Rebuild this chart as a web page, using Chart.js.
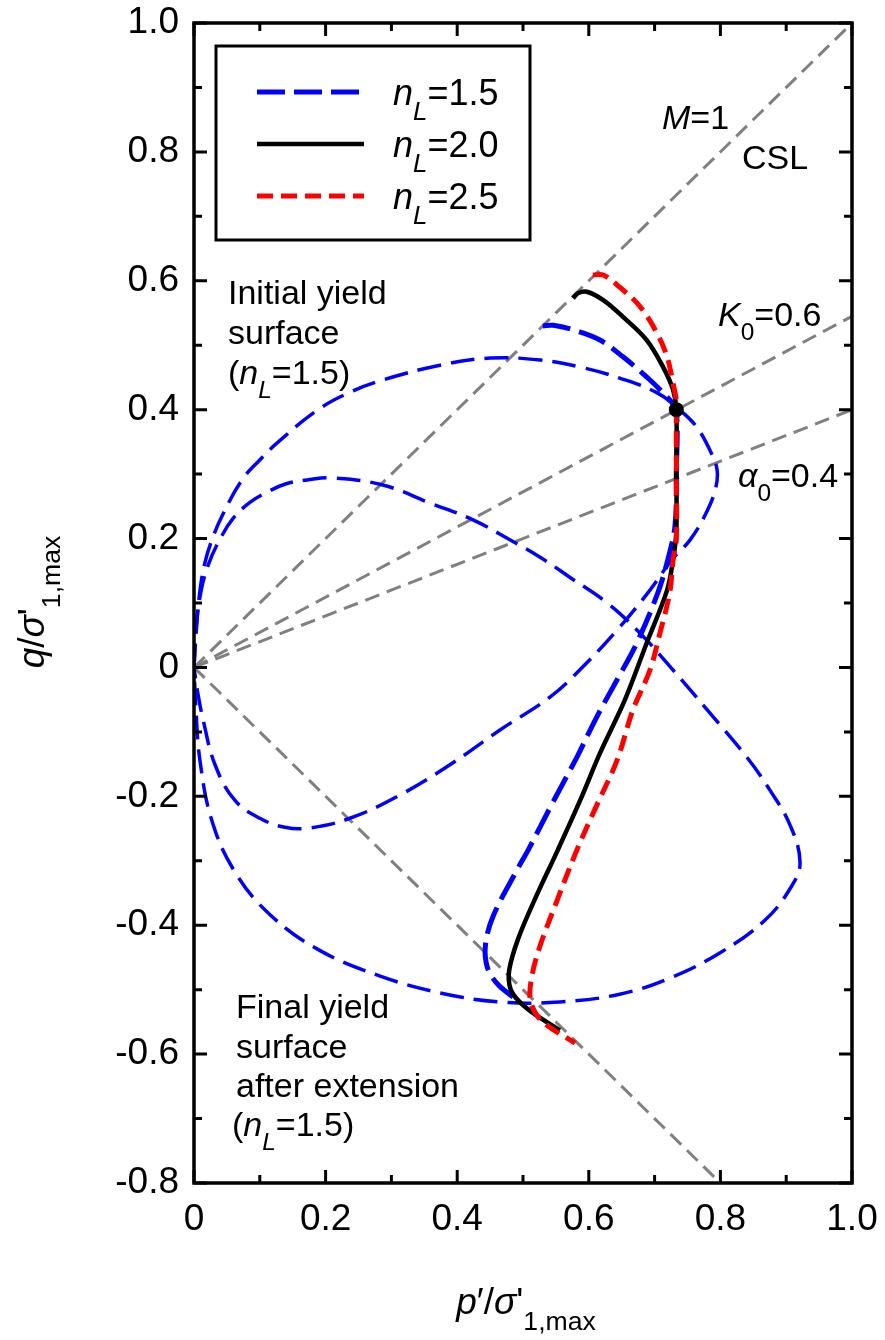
<!DOCTYPE html>
<html>
<head>
<meta charset="utf-8">
<script src="https://cdn.jsdelivr.net/npm/chart.js@4.4.1/dist/chart.umd.min.js"></script>
<style>
  html, body { margin: 0; padding: 0; background: #fff; }
  #wrap { width: 885px; height: 1340px; }
</style>
</head>
<body>
<div id="wrap"><canvas id="chart" width="885" height="1340"></canvas></div>
<script>
// axis ticks
const xMajorTicks = [0, 0.2, 0.4, 0.6, 0.8, 1.0];
const xMinorTicks = [0.1, 0.3, 0.5, 0.7, 0.9];
const xTickLabels = ['0', '0.2', '0.4', '0.6', '0.8', '1.0'];
const yMajorTicks = [-0.8, -0.6, -0.4, -0.2, 0, 0.2, 0.4, 0.6, 0.8, 1.0];
const yMinorTicks = [-0.7, -0.5, -0.3, -0.1, 0.1, 0.3, 0.5, 0.7, 0.9];
const yTickLabels = ['-0.8', '-0.6', '-0.4', '-0.2', '0', '0.2', '0.4', '0.6', '0.8', '1.0'];

// reference lines [p, q]
const cslLine = [[0, 0], [1, 1]];
const k0Line = [[0, 0], [1, 0.545]];
const alphaLine = [[0, 0], [1, 0.4]];
const extLine = [[0, 0], [0.8, -0.8]];

// yield surfaces (nL = 1.5)
const initialSurface = [
  [0, 0], [0.003, 0.05], [0.008, 0.11], [0.016, 0.16], [0.028, 0.20], [0.045, 0.24],
  [0.073, 0.291], [0.100, 0.322], [0.126, 0.348], [0.187, 0.399], [0.237, 0.427], [0.287, 0.446],
  [0.374, 0.469], [0.450, 0.480], [0.526, 0.477], [0.587, 0.466], [0.647, 0.449], [0.704, 0.426],
  [0.739, 0.399], [0.764, 0.373], [0.785, 0.335], [0.795, 0.306], [0.792, 0.275], [0.777, 0.237],
  [0.754, 0.198], [0.726, 0.167], [0.693, 0.120], [0.643, 0.058], [0.591, 0.001], [0.541, -0.046],
  [0.465, -0.097], [0.389, -0.151], [0.313, -0.198], [0.237, -0.234], [0.176, -0.249], [0.138, -0.248],
  [0.100, -0.234], [0.062, -0.206], [0.032, -0.151], [0.014, -0.082], [0.005, -0.035], [0, 0]
];
const finalSurface = [
  [0, 0], [0.003, 0.058], [0.010, 0.115], [0.022, 0.160], [0.040, 0.200], [0.060, 0.232],
  [0.085, 0.256], [0.111, 0.272], [0.140, 0.285], [0.172, 0.291], [0.211, 0.294], [0.287, 0.283],
  [0.359, 0.255], [0.424, 0.229], [0.480, 0.198], [0.526, 0.171], [0.571, 0.140], [0.628, 0.100],
  [0.678, 0.053], [0.728, -0.004], [0.780, -0.066], [0.840, -0.139], [0.875, -0.190], [0.906, -0.245],
  [0.921, -0.302], [0.909, -0.338], [0.868, -0.392], [0.799, -0.443], [0.723, -0.482], [0.647, -0.507],
  [0.556, -0.519], [0.465, -0.519], [0.374, -0.505], [0.283, -0.479], [0.191, -0.439], [0.116, -0.384],
  [0.062, -0.317], [0.027, -0.237], [0.009, -0.144], [0.003, -0.066], [0, 0]
];

// stress paths: compression end -> start point -> extension end
const pathN15 = [
  [0.530, 0.530], [0.546, 0.531], [0.576, 0.524], [0.617, 0.508], [0.652, 0.482], [0.693, 0.446],
  [0.723, 0.415], [0.733, 0.400], [0.733, 0.300], [0.731, 0.220], [0.720, 0.167], [0.705, 0.116],
  [0.673, 0.038], [0.643, -0.019], [0.612, -0.077], [0.582, -0.139], [0.545, -0.210], [0.508, -0.283],
  [0.491, -0.314], [0.455, -0.385], [0.443, -0.430], [0.446, -0.466], [0.462, -0.492], [0.491, -0.516]
];
const pathN20 = [
  [0.576, 0.573], [0.584, 0.581], [0.597, 0.583], [0.622, 0.570], [0.652, 0.544], [0.688, 0.508],
  [0.713, 0.466], [0.728, 0.431], [0.733, 0.400], [0.733, 0.300], [0.733, 0.210], [0.728, 0.167],
  [0.719, 0.120], [0.688, 0.038], [0.655, -0.050], [0.617, -0.133], [0.587, -0.206], [0.553, -0.283],
  [0.521, -0.353], [0.493, -0.420], [0.479, -0.470], [0.481, -0.499], [0.493, -0.517], [0.515, -0.536],
  [0.556, -0.563]
];
const pathN25 = [
  [0.606, 0.609], [0.622, 0.609], [0.647, 0.590], [0.678, 0.560], [0.704, 0.518], [0.719, 0.482],
  [0.728, 0.441], [0.733, 0.415], [0.733, 0.400], [0.733, 0.300], [0.733, 0.198], [0.728, 0.167],
  [0.723, 0.116], [0.708, 0.053], [0.693, -0.004], [0.667, -0.066], [0.643, -0.144], [0.612, -0.214],
  [0.582, -0.283], [0.552, -0.361], [0.524, -0.438], [0.512, -0.488], [0.512, -0.520], [0.528, -0.548],
  [0.579, -0.583]
];
const startPoint = [[0.733, 0.400]];

const legendLabels = ['1.5', '2.0', '2.5'];

const FONT = '"Liberation Sans", Arial, Helvetica, sans-serif';
const BLUE = '#0000ff', RED = '#ff0000', GRAY = '#808080';

const toXY = arr => arr.map(([p, q]) => ({ x: p, y: q }));

function lineSet(data, st, tension, order) {
  return {
    data: toXY(data), showLine: true, borderColor: st.color, borderWidth: st.width,
    borderDash: st.dash, pointRadius: 0, tension: tension, fill: false, order: order,
    borderCapStyle: 'butt', borderJoinStyle: 'round'
  };
}

const styles = {
  surf: { color: BLUE, width: 3.5, dash: [24, 10] },
  n15: { color: BLUE, width: 5, dash: [28, 9] },
  n20: { color: '#000', width: 4.5, dash: [] },
  n25: { color: RED, width: 5, dash: [16, 8] },
  ref: { color: GRAY, width: 3, dash: [15, 8] }
};

// text with italic/sub runs
function runsWidth(ctx, runs, size) {
  let w = 0;
  runs.forEach(r => {
    const s = r.sub ? size * 0.72 : size;
    ctx.font = (r.i ? 'italic ' : '') + s + 'px ' + FONT;
    w += ctx.measureText(r.t).width;
  });
  return w;
}
function drawRuns(ctx, x, y, runs, size, align) {
  let cx = x;
  if (align === 'center') cx = x - runsWidth(ctx, runs, size) / 2;
  ctx.textBaseline = 'alphabetic';
  ctx.textAlign = 'left';
  runs.forEach(r => {
    const s = r.sub ? size * 0.72 : size;
    ctx.font = (r.i ? 'italic ' : '') + s + 'px ' + FONT;
    ctx.fillText(r.t, cx, y + (r.sub ? size * 0.42 : 0));
    cx += ctx.measureText(r.t).width;
  });
}

const decorations = {
  id: 'decorations',
  afterDatasetsDraw(chart) {
    const { ctx, chartArea: a, scales: { x, y } } = chart;
    ctx.save();
    ctx.strokeStyle = '#000';
    ctx.fillStyle = '#000';
    ctx.lineCap = 'butt';

    // inward ticks on all four sides
    ctx.lineWidth = 3;
    const tickX = (v, len) => {
      const px = x.getPixelForValue(v);
      ctx.beginPath();
      ctx.moveTo(px, a.bottom); ctx.lineTo(px, a.bottom - len);
      ctx.moveTo(px, a.top); ctx.lineTo(px, a.top + len);
      ctx.stroke();
    };
    const tickY = (v, len) => {
      const py = y.getPixelForValue(v);
      ctx.beginPath();
      ctx.moveTo(a.left, py); ctx.lineTo(a.left + len, py);
      ctx.moveTo(a.right, py); ctx.lineTo(a.right - len, py);
      ctx.stroke();
    };
    xMajorTicks.forEach(v => tickX(v, 13));
    xMinorTicks.forEach(v => tickX(v, 8));
    yMajorTicks.forEach(v => tickY(v, 13));
    yMinorTicks.forEach(v => tickY(v, 8));

    // frame
    ctx.lineWidth = 3.5;
    ctx.strokeRect(a.left, a.top, a.width, a.height);

    // legend
    const lx = 216, ly = 46, lw = 314, lh = 194;
    ctx.lineWidth = 3;
    ctx.fillStyle = '#fff';
    ctx.fillRect(lx, ly, lw, lh);
    ctx.strokeRect(lx, ly, lw, lh);
    const legendStyles = [styles.n15, styles.n20, styles.n25];
    legendStyles.forEach((st, i) => {
      const yy = 92 + i * 52;
      ctx.strokeStyle = st.color;
      ctx.lineWidth = st.width;
      ctx.setLineDash(st.dash);
      ctx.beginPath();
      ctx.moveTo(257, yy); ctx.lineTo(364, yy);
      ctx.stroke();
      ctx.setLineDash([]);
      ctx.fillStyle = '#000';
      drawRuns(ctx, 393, yy + 13, [{ t: 'n', i: true }, { t: 'L', i: true, sub: true }, { t: '=' + legendLabels[i] }], 36);
    });

    // annotations
    ctx.fillStyle = '#000';
    const fs = 34;
    drawRuns(ctx, 662, 129, [{ t: 'M', i: true }, { t: '=1' }], fs);
    drawRuns(ctx, 742, 169, [{ t: 'CSL' }], fs);
    drawRuns(ctx, 718, 326, [{ t: 'K', i: true }, { t: '0', sub: true }, { t: '=0.6' }], fs);
    drawRuns(ctx, 738, 487, [{ t: '\u03b1', i: true }, { t: '0', sub: true }, { t: '=0.4' }], fs);

    drawRuns(ctx, 228, 304, [{ t: 'Initial yield' }], fs);
    drawRuns(ctx, 228, 344, [{ t: 'surface' }], fs);
    drawRuns(ctx, 228, 384, [{ t: '(' }, { t: 'n', i: true }, { t: 'L', i: true, sub: true }, { t: '=1.5)' }], fs);

    drawRuns(ctx, 236, 1018, [{ t: 'Final yield' }], fs);
    drawRuns(ctx, 236, 1058, [{ t: 'surface' }], fs);
    drawRuns(ctx, 236, 1097, [{ t: 'after extension' }], fs);
    drawRuns(ctx, 232, 1136, [{ t: '(' }, { t: 'n', i: true }, { t: 'L', i: true, sub: true }, { t: '=1.5)' }], fs);

    // axis titles
    drawRuns(ctx, 526, 1314, [{ t: 'p', i: true }, { t: '\u2032/' }, { t: '\u03c3', i: true }, { t: '\'' }, { t: '1,max', sub: true }], 37, 'center');
    ctx.save();
    ctx.translate(44, 602);
    ctx.rotate(-Math.PI / 2);
    drawRuns(ctx, 0, 0, [{ t: 'q', i: true }, { t: '/' }, { t: '\u03c3', i: true }, { t: '\'' }, { t: '1,max', sub: true }], 37, 'center');
    ctx.restore();

    ctx.restore();
  }
};

const datasets = [
  { data: toXY(startPoint), showLine: false, pointRadius: 7.5, pointBackgroundColor: '#000',
    pointBorderColor: '#000', pointBorderWidth: 0, order: 0 },
  lineSet(pathN25, styles.n25, 0.35, 1),
  lineSet(pathN20, styles.n20, 0.35, 2),
  lineSet(pathN15, styles.n15, 0.35, 3),
  lineSet(initialSurface, styles.surf, 0.4, 4),
  lineSet(finalSurface, styles.surf, 0.4, 5),
  lineSet(cslLine, styles.ref, 0, 6),
  lineSet(k0Line, styles.ref, 0, 7),
  lineSet(alphaLine, styles.ref, 0, 8),
  lineSet(extLine, styles.ref, 0, 9)
];

new Chart(document.getElementById('chart'), {
  type: 'scatter',
  data: { datasets: datasets },
  options: {
    responsive: false,
    animation: false,
    events: [],
    layout: { padding: { left: 0, right: 33, top: 23, bottom: 0 } },
    plugins: { legend: { display: false }, tooltip: { enabled: false } },
    scales: {
      x: {
        type: 'linear', min: 0, max: 1,
        grid: { display: false, drawTicks: false },
        border: { display: false },
        afterBuildTicks: s => { s.ticks = xMajorTicks.map(v => ({ value: v })); },
        afterFit: s => { s.height = 157; s.paddingLeft = 0; s.paddingRight = 0; },
        ticks: {
          padding: 15, color: '#000', maxRotation: 0, autoSkip: false,
          font: { family: FONT, size: 37 },
          callback: (v, i) => xTickLabels[i]
        }
      },
      y: {
        type: 'linear', min: -0.8, max: 1,
        grid: { display: false, drawTicks: false },
        border: { display: false },
        afterBuildTicks: s => { s.ticks = yMajorTicks.map(v => ({ value: v })); },
        afterFit: s => { s.width = 194; s.paddingTop = 0; s.paddingBottom = 0; },
        ticks: {
          padding: 15, color: '#000', autoSkip: false,
          font: { family: FONT, size: 37 },
          callback: (v, i) => yTickLabels[i]
        }
      }
    }
  },
  plugins: [decorations]
});
</script>
</body>
</html>
